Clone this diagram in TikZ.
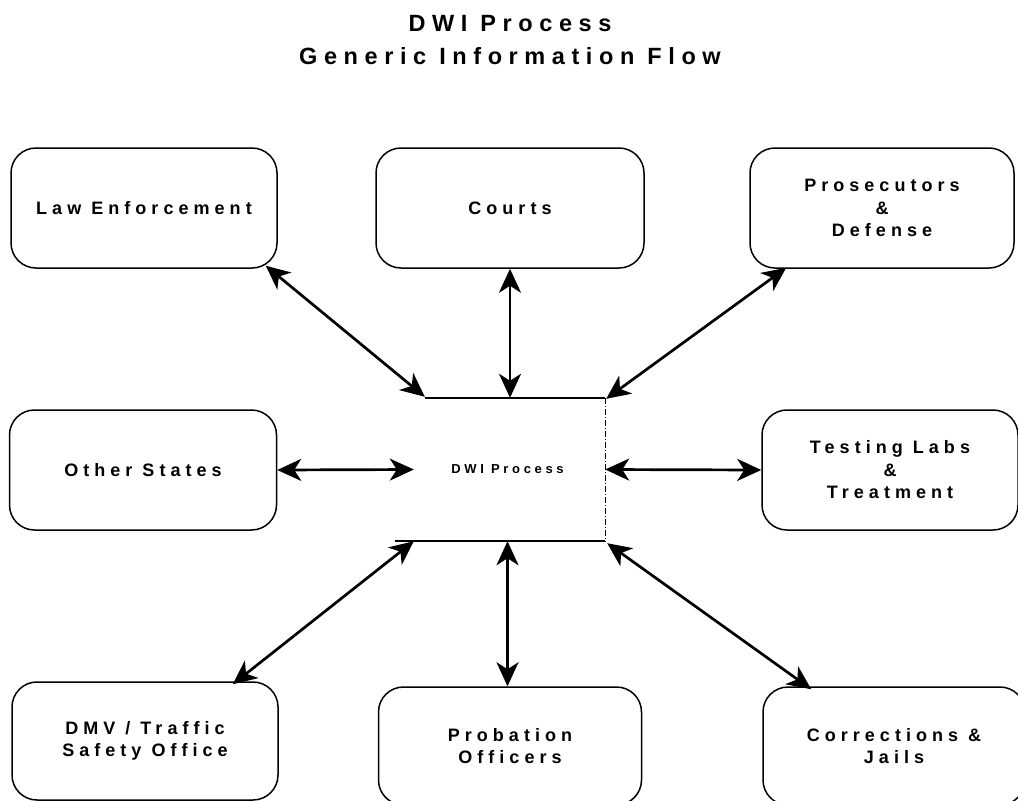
\documentclass[tikz,border=0pt]{standalone}
\usepackage{fontspec}
\setmainfont{Liberation Sans}[LetterSpace=28]
\usetikzlibrary{arrows.meta,calc}
\begin{document}
\begin{tikzpicture}[x=1pt,y=-1pt,
  agency/.style={draw, line width=1.5pt, rounded corners=25pt, align=center,
    font=\fontsize{18}{22.5}\selectfont\bfseries, inner sep=0pt},
  link/.style={line width=2.7pt,
    arrows={Stealth[length=24pt,width=22pt,inset=7pt]-Stealth[length=24pt,width=22pt,inset=7pt]}}
]
\useasboundingbox (0,0) rectangle (1018,801);

% title
\node (title) at (510,40) [align=center, font=\fontsize{23.5}{33}\selectfont\bfseries]
  {DWI Process\\Generic Information Flow};

% agencies around the process
\node[agency, minimum width=266pt, minimum height=120pt] (law) at (144,208) {Law Enforcement};
\node[agency, minimum width=268pt, minimum height=120pt] (courts) at (510,208) {Courts};
\node[agency, minimum width=264pt, minimum height=120pt] (pros) at (882,208) {Prosecutors\\\&\\Defense};
\node[agency, minimum width=267pt, minimum height=120pt] (other) at (143,470) {Other States};
\node[agency, minimum width=256pt, minimum height=120pt] (test) at (890,470) {Testing Labs\\\&\\Treatment};
\node[agency, minimum width=266pt, minimum height=118pt] (dmv) at (145,741) {DMV / Traffic\\Safety Office};
\node[agency, minimum width=263pt, minimum height=118pt] (prob) at (510,746) {Probation\\Officers};
\node[agency, minimum width=262pt, minimum height=118pt] (corr) at (894,746) {Corrections \&\\Jails};

% central process
\node[minimum width=195pt, minimum height=143pt, inner sep=0pt,
  font=\fontsize{13}{15}\selectfont\bfseries] (dwi) at (507.5,469.5) {DWI Process};
\draw[line width=1.5pt] ($(dwi.north west)+(15,0)$) -- (dwi.north east);
\draw[line width=1.5pt] ($(dwi.south west)+(-15,0)$) -- (dwi.south east);
\draw[line width=0.6pt, dash pattern=on 6pt off 2pt on 1pt off 2pt] (dwi.north east) -- (dwi.south east);

% information flows
\draw[link] ($(law.south east)+(-12,-3)$) -- ($(dwi.north west)+(15,-1)$);
\draw[link] (courts.south) -- (courts.south |- dwi.north);
\draw[link] ($(pros.south west)+(37,-1)$) -- ($(dwi.north east)+(1,1)$);
\draw[link] (other.east) -- ($(dwi.west)+(4,0)$);
\draw[link] (dwi.east) -- (test.west);
\draw[link] ($(dmv.north east)+(-46,3)$) -- ($(dwi.south west)+(4,0)$);
\draw[link] (dwi.south) -- (dwi.south |- prob.north);
\draw[link] ($(dwi.south east)+(2,2)$) -- ($(corr.north west)+(49,3)$);
\end{tikzpicture}
\end{document}
